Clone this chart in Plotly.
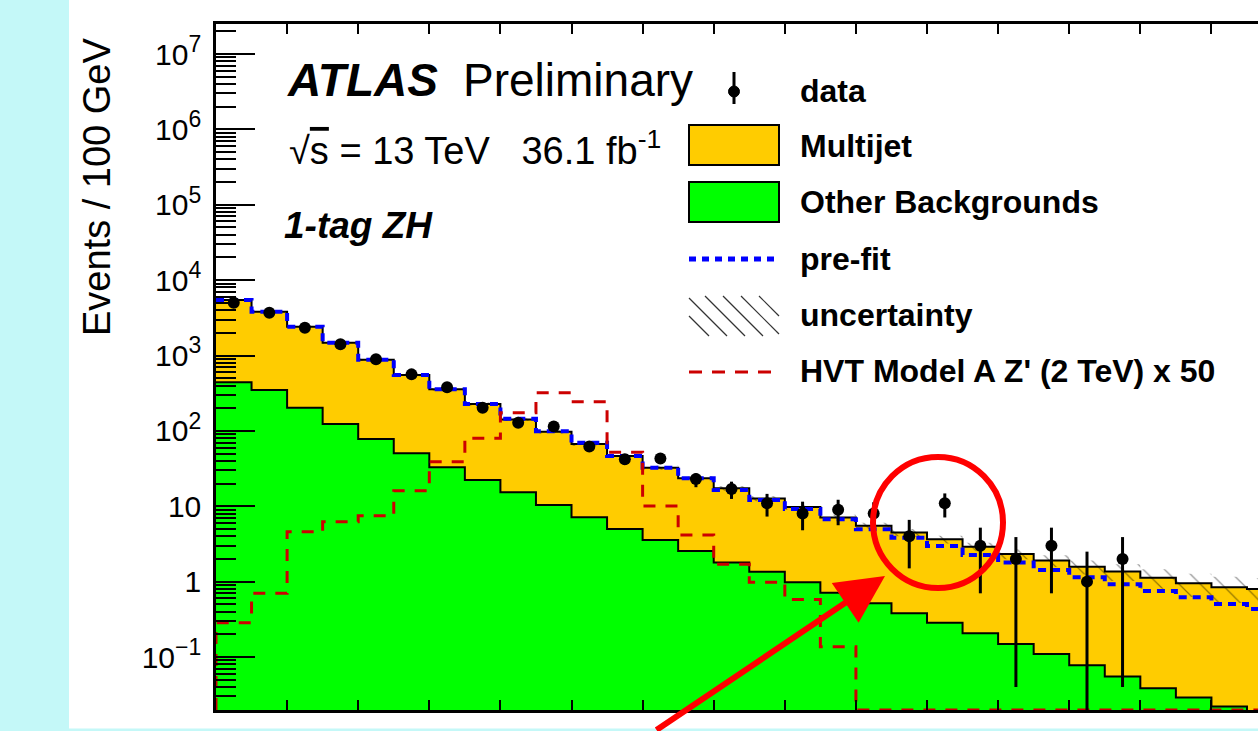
import plotly.graph_objects as go
import numpy as np

# ---------------- data ----------------
bin_edges = [1000, 1100, 1200, 1300, 1400, 1500, 1600, 1700, 1800, 1900, 2000,
             2100, 2200, 2300, 2400, 2500, 2600, 2700, 2800, 2900, 3000,
             3100, 3200, 3300, 3400, 3500, 3600, 3700, 3800, 3900, 4000]

data_counts = [5000, 3700, 2340, 1406, 890, 562, 378, 203, 128, 114, 62, 42, 43,
               23, 17, 11, 8, 9, 8, 4, 11, 3, 2, 3, 1, 2]
data_err_up = [71, 61, 48, 37, 30, 24, 19, 14, 11, 11, 8, 6.5, 6.6,
               4.4, 4.2, 3.6, 3.5, 3.2, 3.3, 2.6, 3.8, 2.2, 1.9, 2.2, 1.5, 1.9]
data_err_down = [71, 61, 48, 37, 30, 24, 19, 14, 11, 11, 8, 6.5, 6.6,
                 5.1, 4.5, 3.7, 3.2, 3.4, 3.0, 2.5, 3.9, 2.3, 1.96, 2.3, 0.99, 1.96]

total_postfit = [5440, 3820, 2410, 1479, 880, 551, 356, 227, 142, 97.5, 67, 46.4,
                 32.5, 23.5, 17.3, 12.7, 9.8, 7.1, 5.5, 4.5, 3.64, 2.91, 2.33,
                 1.90, 1.58, 1.36, 1.13, 0.95, 0.84, 0.80]
other_backgrounds = [441, 348, 203, 123, 78, 50.4, 32.8, 22.3, 15.3, 10.4, 7.13,
                     4.99, 3.56, 2.55, 1.80, 1.35, 0.98, 0.71, 0.515, 0.38, 0.285,
                     0.206, 0.149, 0.110, 0.078, 0.055, 0.0385, 0.029, 0.022, 0.017]
prefit_total = [5450, 3820, 2410, 1479, 880, 551, 356, 227, 145, 99, 69.7, 46.4,
                32.5, 23.5, 16.4, 12.1, 9.2, 6.7, 4.94, 3.83, 2.97, 2.25, 1.80,
                1.43, 1.14, 0.92, 0.75, 0.62, 0.505, 0.434]
signal_hvt_x50 = [0.285, 0.70, 4.6, 6.25, 7.5, 16.1, 39, 79.7, 174, 321, 244, 52,
                  10.1, 4.16, 1.70, 0.98, 0.58, 0.137, 0, 0, 0, 0, 0, 0, 0, 0,
                  0, 0, 0, 0]
rel_uncertainty = [0.03, 0.03, 0.03, 0.03, 0.04, 0.04, 0.04, 0.05, 0.05, 0.05,
                   0.06, 0.06, 0.07, 0.07, 0.07, 0.08, 0.08, 0.09, 0.10, 0.11,
                   0.12, 0.13, 0.15, 0.18, 0.21, 0.25, 0.29, 0.34, 0.38, 0.40]

x_tick_vals = [1000, 1200, 1400, 1600, 1800, 2000, 2200, 2400, 2600, 2800, 3000,
               3200, 3400, 3600, 3800]
y_tick_vals = [0.1, 1, 10, 100, 1e3, 1e4, 1e5, 1e6, 1e7]
SUP = "<sup><span style='font-size:23px'>%s</span></sup>"
y_tick_text = ["10" + SUP % "\u22121", "1", "10", "10" + SUP % "2", "10" + SUP % "3",
               "10" + SUP % "4", "10" + SUP % "5", "10" + SUP % "6", "10" + SUP % "7"]

legend_labels = ["data", "Multijet", "Other Backgrounds", "pre-fit", "uncertainty",
                 "HVT Model A Z' (2 TeV) x 50"]

# ---------------- geometry ----------------
W, H = 1258, 731
L, R, T, B = 216, 0, 24, 21
X_RANGE = [1000, 3931]
Y_RANGE = [-1.703, 7.398]
FONT = "Liberation Sans, Arial, Helvetica, sans-serif"


def px(x):
    return (x - L) / (W - L - R)


def py(y):
    return 1 - (y - T) / (H - T - B)


edges = np.array(bin_edges, dtype=float)
centers = (edges[:-1] + edges[1:]) / 2
y_floor = 10 ** Y_RANGE[0]


def ext(v):
    v = list(v)
    return v + [v[-1]]


tot = np.array(total_postfit)
unc = np.array(rel_uncertainty)
sig = np.array(signal_hvt_x50, dtype=float)
sig = np.where(sig > 0, sig, y_floor)

fig = go.Figure()

# Multijet (stacked on top of other backgrounds) -> total
fig.add_trace(go.Scatter(x=edges, y=ext(tot), mode="lines",
                         line=dict(shape="hv", color="black", width=2),
                         fill="tozeroy", fillcolor="#FFCC00", name="Multijet",
                         showlegend=False, hoverinfo="skip"))
# Other backgrounds
fig.add_trace(go.Scatter(x=edges, y=ext(other_backgrounds), mode="lines",
                         line=dict(shape="hv", color="black", width=2),
                         fill="tozeroy", fillcolor="#00FF00",
                         name="Other Backgrounds", showlegend=False,
                         hoverinfo="skip"))
# uncertainty band (hatched)
fig.add_trace(go.Scatter(x=edges, y=ext(tot * (1 - unc)), mode="lines",
                         line=dict(shape="hv", width=0, color="rgba(0,0,0,0)"),
                         showlegend=False, hoverinfo="skip"))
fig.add_trace(go.Scatter(x=edges, y=ext(tot * (1 + unc)), mode="lines",
                         line=dict(shape="hv", width=0, color="rgba(0,0,0,0)"),
                         fill="tonexty", fillcolor="rgba(0,0,0,0)",
                         fillpattern=dict(shape="\\", fgcolor="rgba(0,0,0,0.85)",
                                          bgcolor="rgba(0,0,0,0)", size=15,
                                          solidity=0.08),
                         name="uncertainty", showlegend=False, hoverinfo="skip"))
# pre-fit
fig.add_trace(go.Scatter(x=edges, y=ext(prefit_total), mode="lines",
                         line=dict(shape="hv", color="#0000FF", width=4,
                                   dash="8px,6px"),
                         name="pre-fit", showlegend=False, hoverinfo="skip"))
# signal
fig.add_trace(go.Scatter(x=[edges[0]] + list(edges), y=[y_floor] + ext(sig),
                         mode="lines",
                         line=dict(shape="hv", color="#CC0000", width=3,
                                   dash="12px,10px"),
                         name="HVT", showlegend=False, hoverinfo="skip"))
# data
fig.add_trace(go.Scatter(x=centers[:len(data_counts)], y=data_counts,
                         mode="markers",
                         marker=dict(size=12, color="black"),
                         error_y=dict(type="data", symmetric=False,
                                      array=data_err_up, arrayminus=data_err_down,
                                      thickness=3, width=0, color="black"),
                         name="data", showlegend=False))

shapes = []
annotations = []

# cyan page background strips
CYAN = "#C4F8F8"
shapes.append(dict(type="rect", xref="paper", yref="paper", layer="below",
                   x0=px(-5), x1=px(69), y0=py(H + 5), y1=py(-5),
                   fillcolor=CYAN, line=dict(width=0)))
shapes.append(dict(type="rect", xref="paper", yref="paper", layer="below",
                   x0=px(-5), x1=px(W + 5), y0=py(H + 5), y1=py(728.5),
                   fillcolor=CYAN, line=dict(width=0)))

# ---- texts ----
annotations.append(dict(text="<b><i>ATLAS</i></b>", x=px(285), y=py(80),
                        xref="paper", yref="paper", xanchor="left", yanchor="middle",
                        showarrow=False, font=dict(family=FONT, size=46, color="black")))
annotations.append(dict(text="Preliminary", x=px(461), y=py(80),
                        xref="paper", yref="paper", xanchor="left", yanchor="middle",
                        showarrow=False, font=dict(family=FONT, size=46, color="black")))
annotations.append(dict(text="\u221a<span style='text-decoration:overline'>s</span>"
                             " = 13 TeV\u00a0\u00a0\u00a036.1 fb<sup>-1</sup>",
                        x=px(287), y=py(148),
                        xref="paper", yref="paper", xanchor="left", yanchor="middle",
                        showarrow=False, font=dict(family=FONT, size=38, color="black")))
annotations.append(dict(text="<b><i>1-tag ZH</i></b>", x=px(282), y=py(225),
                        xref="paper", yref="paper", xanchor="left", yanchor="middle",
                        showarrow=False, font=dict(family=FONT, size=37, color="black")))
annotations.append(dict(text="Events / 100 GeV", x=px(97), y=py(187), textangle=-90,
                        xref="paper", yref="paper", xanchor="center", yanchor="middle",
                        showarrow=False, font=dict(family=FONT, size=38, color="black")))

# ---- legend (drawn like the ROOT legend) ----
row_y = [91, 146, 202, 259, 315, 371]
sym_x0, sym_x1, txt_x = 689, 779, 798
for lab, yy in zip(legend_labels, row_y):
    annotations.append(dict(text="<b>%s</b>" % lab, x=px(txt_x), y=py(yy),
                            xref="paper", yref="paper", xanchor="left",
                            yanchor="middle", showarrow=False,
                            font=dict(family=FONT, size=32, color="black")))
# data symbol
shapes.append(dict(type="line", xref="paper", yref="paper",
                   x0=px(734), x1=px(734), y0=py(72), y1=py(104),
                   line=dict(color="black", width=3)))
shapes.append(dict(type="circle", xref="paper", yref="paper",
                   x0=px(728.5), x1=px(739.5), y0=py(86), y1=py(97),
                   fillcolor="black", line=dict(color="black", width=1)))
# boxes
shapes.append(dict(type="rect", xref="paper", yref="paper",
                   x0=px(sym_x0), x1=px(sym_x1), y0=py(165), y1=py(125),
                   fillcolor="#FFCC00", line=dict(color="black", width=2)))
shapes.append(dict(type="rect", xref="paper", yref="paper",
                   x0=px(sym_x0), x1=px(sym_x1), y0=py(222), y1=py(182),
                   fillcolor="#00FF00", line=dict(color="black", width=2)))
# pre-fit line
shapes.append(dict(type="line", xref="paper", yref="paper",
                   x0=px(sym_x0), x1=px(sym_x1), y0=py(259), y1=py(259),
                   line=dict(color="#0000FF", width=5, dash="7px,6px")))
# hatch symbol
for k in range(6):
    xa = sym_x0 - 20 + k * 18
    xs0, ys0, xs1, ys1 = xa, 296, xa + 40, 336
    if xs0 < sym_x0:
        ys0 += sym_x0 - xs0
        xs0 = sym_x0
    if xs1 > sym_x1:
        ys1 -= xs1 - sym_x1
        xs1 = sym_x1
    shapes.append(dict(type="line", xref="paper", yref="paper",
                       x0=px(xs0), x1=px(xs1), y0=py(ys0), y1=py(ys1),
                       line=dict(color="rgba(0,0,0,0.8)", width=1.2)))
# HVT dashed
shapes.append(dict(type="line", xref="paper", yref="paper",
                   x0=px(sym_x0), x1=px(sym_x1), y0=py(372), y1=py(372),
                   line=dict(color="#CC0000", width=3, dash="13px,10px")))

# ---- red circle and arrow (slide annotation) ----
shapes.append(dict(type="circle", xref="paper", yref="paper",
                   x0=px(873), x1=px(1003), y0=py(588), y1=py(457),
                   line=dict(color="#FF0000", width=6)))
annotations.append(dict(text="", x=px(885), y=py(576), xref="paper", yref="paper",
                        ax=-230, ay=155, showarrow=True, arrowhead=2,
                        arrowsize=1.6, arrowwidth=6, arrowcolor="#FF0000",
                        standoff=0))

fig.update_layout(
    width=W, height=H,
    margin=dict(l=L, r=R, t=T, b=B, pad=0),
    paper_bgcolor="white", plot_bgcolor="white",
    showlegend=False,
    shapes=shapes, annotations=annotations,
    xaxis=dict(range=X_RANGE, showline=True, linecolor="black", linewidth=2.5,
               mirror="ticks", ticks="inside", ticklen=10, tickwidth=2,
               tickcolor="black", tickmode="array", tickvals=x_tick_vals,
               showticklabels=False, showgrid=False, zeroline=False),
    yaxis=dict(type="log", range=Y_RANGE, showline=True, linecolor="black",
               linewidth=2.5, ticks="inside", ticklen=39, tickwidth=2,
               tickcolor="black", tickmode="array", tickvals=y_tick_vals,
               ticktext=y_tick_text, ticklabelstandoff=6,
               tickfont=dict(family=FONT, size=30, color="black"),
               minor=dict(ticks="inside", ticklen=20, tickwidth=2, tickcolor="black",
                          tickmode="array",
                          tickvals=[m * 10.0 ** k for k in range(-2, 8)
                                    for m in range(2, 10)],
                          showgrid=False),
               showgrid=False, zeroline=False),
    yaxis2=dict(type="log", range=Y_RANGE, overlaying="y", side="right", anchor="x",
                ticks="inside", ticklen=15, tickwidth=2, tickcolor="black",
                tickmode="array", tickvals=y_tick_vals, showticklabels=False,
                showline=False, showgrid=False, zeroline=False),
)

fig.write_html("out.html",
               config={"displayModeBar": False},
               post_script="document.body.style.margin='0px';"
                           "document.body.style.overflow='hidden';")
